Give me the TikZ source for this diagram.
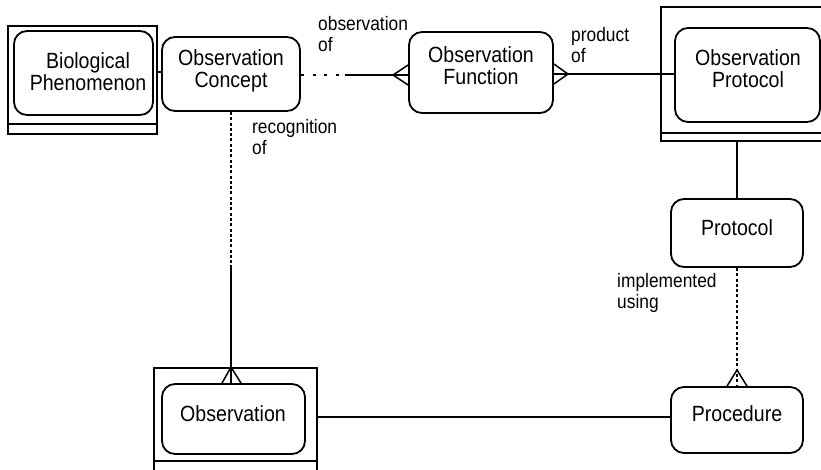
\documentclass[tikz,border=0pt]{standalone}
\usepackage{fontspec}
\setmainfont{Liberation Sans}[FakeStretch=0.89]
\usetikzlibrary{calc}
\begin{document}
\begin{tikzpicture}[x=1pt,y=-1pt,
  ebox/.style={draw, line width=1.8pt, rounded corners=13pt, inner sep=0pt},
  outerbox/.style={draw, line width=1.8pt, inner sep=0pt},
  etext/.style={align=center, font=\fontsize{22}{22}\selectfont, inner sep=0pt},
  rlabel/.style={align=left, anchor=west, font=\fontsize{19.5}{21}\selectfont, inner sep=0pt},
  conn/.style={line width=1.5pt},
  vdots/.style={line width=2.8pt, dash pattern=on 3pt off 2.3pt},
  hdots/.style={line width=2.8pt, dash pattern=on 3pt off 8.7pt}]
\useasboundingbox (0,0) rectangle (821,469);
\clip (0,0) rectangle (821,469);
\fill[white] (0,0) rectangle (821,469);

% outer (weak entity) boxes
\node[outerbox, minimum width=149pt, minimum height=108pt] (bioouter) at (82.5,80) {};
\draw[line width=1.8pt] (8,124) -- (157,124);
\node[outerbox, minimum width=179pt, minimum height=134pt] (opouter) at (750.5,74) {};
\draw[line width=1.8pt] (661,133) -- (840,133);
\node[outerbox, minimum width=163pt, minimum height=120pt] (obsouter) at (235.5,428) {};
\draw[line width=1.8pt] (154,461) -- (317,461);

% entity boxes
\node[ebox, minimum width=139pt, minimum height=84pt] (bio) at (83.5,73) {};
\node[ebox, minimum width=138pt, minimum height=74pt] (oc) at (231,74) {};
\node[ebox, minimum width=144pt, minimum height=81pt] (of) at (481,72.5) {};
\node[ebox, minimum width=145pt, minimum height=94pt] (op) at (747.5,75) {};
\node[ebox, minimum width=132pt, minimum height=68pt] (prot) at (737,233) {};
\node[ebox, minimum width=132pt, minimum height=66pt] (proc) at (737,420) {};
\node[ebox, minimum width=143pt, minimum height=70pt] (obs) at (233.5,419) {};

% texts
\node[etext] (biot) at (88,72) {Biological\\Phenomenon};
\node[etext] (oct) at (231,71) {Observation\\Concept};
\node[etext] (oft) at (481,66) {Observation\\Function};
\node[etext] (opt) at (748,68.5) {Observation\\Protocol};
\node[etext] (prott) at (737,228) {Protocol};
\node[etext] (proct) at (737,414) {Procedure};
\node[etext] (obst) at (233,414) {Observation};

% labels
\node[rlabel] (l1) at (318,34.5) {observation\\of};
\node[rlabel] (l2) at (571,45) {product\\of};
\node[rlabel] (l3) at (252,137.5) {recognition\\of};
\node[rlabel] (l4) at (617,293) {implemented\\using};

% connectors
\draw[conn] (oc.west |- 0,72) -- (bioouter.east |- 0,72);

\coordinate (m1) at (345,75);
\coordinate (a1) at (393,75);
\draw[hdots] (oc.east |- m1) -- (m1);
\draw[conn] (m1) -- (of.west |- m1);
\draw[conn] ($(of.west |- m1)+(0,-10)$) -- (a1) -- ($(of.west |- m1)+(0,10)$);

\coordinate (a2) at (568,74);
\draw[conn] (of.east |- a2) -- (op.west |- a2);
\draw[conn] ($(of.east |- a2)+(0,-10)$) -- (a2) -- ($(of.east |- a2)+(0,10)$);

\draw[conn] (opouter.south -| prot.north) -- (prot.north);

\coordinate (a3) at (737,370);
\draw[vdots] (prot.south) -- (proc.north);
\draw[conn] ($(proc.north)+(-10,0)$) -- (a3) -- ($(proc.north)+(10,0)$);

\coordinate (m2) at (231,265);
\draw[vdots] (oc.south) -- (m2);
\draw[conn] (m2) -- (obsouter.north -| m2);
\draw[conn] ($(obs.north -| m2)+(-9,0)$) -- (obsouter.north -| m2) -- ($(obs.north -| m2)+(10,0)$);
\draw[conn] (obsouter.north -| m2) -- (obs.north -| m2);

\draw[conn] (obsouter.east |- 0,417) -- (proc.west |- 0,417);
\end{tikzpicture}
\end{document}
